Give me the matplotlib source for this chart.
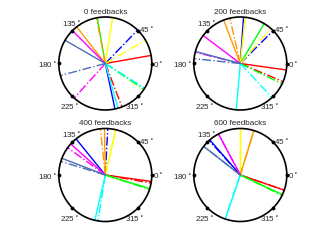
import numpy as np
import matplotlib.pyplot as plt

plt.rcParams['font.family'] = ['Liberation Sans', 'DejaVu Sans']

# Värvid (MATLAB-stiilis)
colors = ['#ff0000', '#00ff00', '#0000ff', '#ffff00', '#ff9900', '#ff00ff', '#00ffff', '#4a6db5']

titles = ['0 feedbacks', '200 feedbacks', '400 feedbacks', '600 feedbacks']

# Suunad kraadides: pidev joon ja kriips-punkt joon iga värvi kohta
# järjekord: punane, roheline, sinine, kollane, oranž, magenta, tsüaan, hallsinine
solid_deg = [
    [10, 100, 282, 81, 128, 135, 286, 150],
    [352, 59, 86, 84, 111, 143, 265, 165],
    [352, 343, 129, 77, 91, 138, 257, 159],
    [341, 335, 131, 90, 73, 118, 251, 142],
]
dashdot_deg = [
    [291, 326, 46, 30, 101, 228, 328, 195],
    [337, 334, 45, 49, 103, 166, 313, 174],
    [350, 342, 87, 77, 96, 144, 261, 163],
    [341, 334, 132, 90, 73, 118, 251, 142],
]

tick_deg = [0, 45, 135, 180, 225, 315]
tick_lbl = [r'0$^\circ$', r'45$^\circ$', r'135$^\circ$', r'180$^\circ$', r'225$^\circ$', r'315$^\circ$']
# sildi keskpunkti nihe ringi keskmest (pikslites, y alla)
lbl_off = [(53, 1), (41, -33.5), (-34, -40), (-58, 1.5), (-36, 43.5), (29.5, 43.5)]

W, H = 332, 249
R = 46.5
centers = [(105.3, 63.5), (240.3, 63.5), (105.3, 175), (240.3, 175)]

fig = plt.figure(figsize=(W / 100, H / 100), dpi=100)

for k in range(4):
    cx, cy = centers[k]
    ax = fig.add_axes([(cx - R) / W, (H - cy - R) / H, 2 * R / W, 2 * R / H], projection='polar')
    for c, a_s, a_d in zip(colors, solid_deg[k], dashdot_deg[k]):
        ax.plot([0, np.deg2rad(a_d)], [0, 1], color=c, lw=1.0, ls='-.')
        ax.plot([0, np.deg2rad(a_s)], [0, 1], color=c, lw=1.0, ls='-')
    # ringi täpid
    ax.plot(np.deg2rad(tick_deg), np.ones(len(tick_deg)), 'k.', ms=3.5, clip_on=False)
    ax.set_ylim(0, 1)
    ax.set_yticks([])
    ax.set_xticks([])
    ax.grid(False)
    ax.spines['polar'].set_linewidth(1.2)
    ax.spines['polar'].set_color('black')
    for lbl, (dx, dy) in zip(tick_lbl, lbl_off):
        ax.text(0.5 + dx / (2 * R), 0.5 - dy / (2 * R), lbl, transform=ax.transAxes,
                ha='center', va='center', fontsize=5.8, color='#262626', zorder=5)
    ax.text(0.5, 0.5 + 51.5 / (2 * R), titles[k], transform=ax.transAxes,
            ha='center', va='center', fontsize=5.8, color='#262626')

plt.savefig('out.png', dpi=100)
plt.close()
